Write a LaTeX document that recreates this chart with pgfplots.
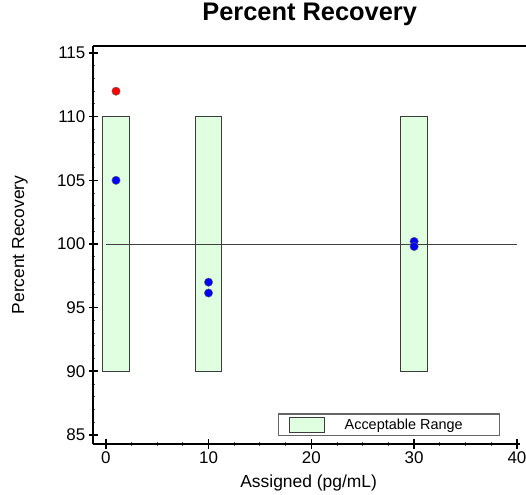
\documentclass[border=0pt]{standalone}
\usepackage{fontspec}
\setmainfont{Liberation Sans}
\usepackage{pgfplots}
\pgfplotsset{compat=1.18}
\usetikzlibrary{calc}
\definecolor{barfill}{RGB}{224,255,224}
\definecolor{baredge}{RGB}{60,60,60}
\begin{document}
\begin{tikzpicture}
\begin{axis}[
  name=ax,
  scale only axis,
  width=426.7bp, height=398bp,
  xmin=-1.21, xmax=40.3,
  ymin=84.29, ymax=115.55,
  axis x line*=bottom, axis y line*=left,
  axis line style={line width=2bp, -},
  xtick={0,10,20,30,40},
  ytick={85,90,95,100,105,110,115},
  minor x tick num=3, minor y tick num=4,
  tick align=center,
  major tick length=9bp, minor tick length=3bp,
  every major tick/.append style={line width=1.6bp, black},
  every minor tick/.append style={line width=1bp, black!70},
  /pgf/number format/assume math mode=true,
  tick label style={font=\fontsize{17}{20}\selectfont},
  label style={font=\fontsize{17.5}{20}\selectfont},
  xlabel={Assigned (pg/mL)},
  ylabel={Percent Recovery},
  xlabel style={at={(axis description cs:0.5,0)}, anchor=base, yshift=-43bp, xshift=2bp},
  ylabel style={at={(axis description cs:-0.172,0.5)}, anchor=center, rotate=0},
  title={Percent Recovery},
  title style={font=\bfseries\fontsize{25.5}{28}\selectfont, at={(axis description cs:0.5,1)}, anchor=base, yshift=20bp, xshift=3bp},
  clip=false,
  legend cell align=left,
  legend style={at={(0.433,0.02)}, anchor=south west, draw=black!60, line width=1.2bp,
    inner xsep=0pt, inner ysep=2.5bp, font=\fontsize{14.5}{16}\selectfont,
    nodes={inner sep=0pt}},
]
% acceptable range bars
\addplot[fill=barfill, draw=baredge, line width=0.8bp,
  legend image code/.code={
    \path[draw=none, fill=none] (0bp,0bp) -- (10.7bp,0bp);
    \draw[fill=barfill, draw=baredge, line width=0.8bp] (10.7bp,-7.8bp) rectangle (45.7bp,7.8bp);
    \path[draw=none, fill=none] (45.7bp,0bp) -- (66bp,0bp);}]
  coordinates {(-0.3,90) (-0.3,110) (2.3,110) (2.3,90)} -- cycle;
\addlegendentry{Acceptable Range\hspace*{37bp}}
\addplot[fill=barfill, draw=baredge, line width=0.8bp, forget plot]
  coordinates {(8.7,90) (8.7,110) (11.3,110) (11.3,90)} -- cycle;
\addplot[fill=barfill, draw=baredge, line width=0.8bp, forget plot]
  coordinates {(28.7,90) (28.7,110) (31.3,110) (31.3,90)} -- cycle;
% 100% reference line
\addplot[black!75, line width=0.8bp, forget plot] coordinates {(0,100) (40,100)};
% measured recoveries
\addplot[only marks, mark=*, mark size=4.2bp, forget plot,
  mark options={fill=blue, draw=black!60, line width=0.4bp}]
  coordinates {(1,105) (10,97) (10,96.15) (30,100.2) (30,99.8)};
\addplot[only marks, mark=*, mark size=4.2bp, forget plot,
  mark options={fill=red, draw=black!60, line width=0.4bp}]
  coordinates {(1,112)};
% top frame line
\draw[line width=2bp] (rel axis cs:0,1) -- ++(440bp,0bp);
\end{axis}
\pgfresetboundingbox
\path ($(ax.south west)+(-93.3bp,-51bp)$) rectangle ($(ax.south west)+(432.7bp,444bp)$);
\end{tikzpicture}
\end{document}
